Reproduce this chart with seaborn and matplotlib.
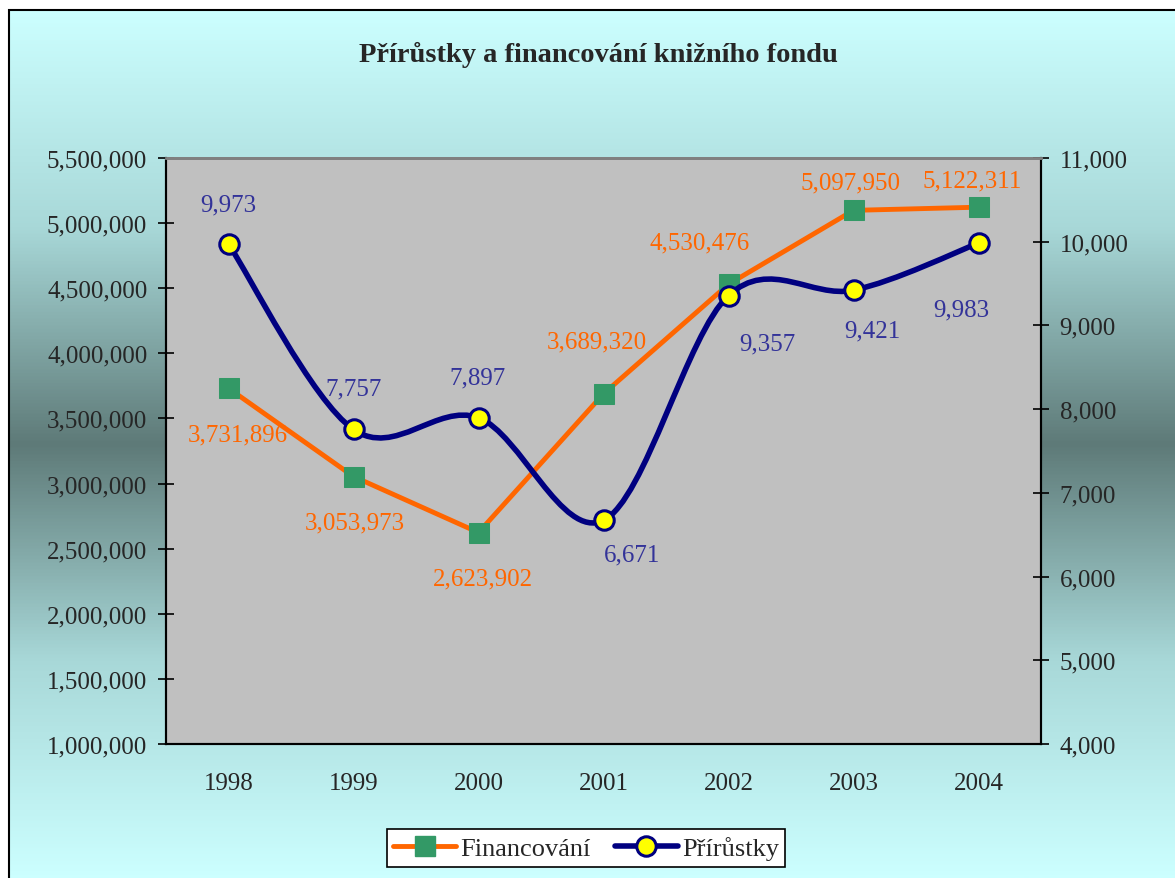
import matplotlib
matplotlib.use("Agg")
import matplotlib.pyplot as plt
import numpy as np
import seaborn as sns
from matplotlib.colors import LinearSegmentedColormap
from matplotlib.lines import Line2D
from matplotlib.patches import PathPatch, Rectangle
from matplotlib.path import Path
from matplotlib.ticker import FuncFormatter, MultipleLocator

years = ["1998", "1999", "2000", "2001", "2002", "2003", "2004"]
financovani = [3731896, 3053973, 2623902, 3689320, 4530476, 5097950, 5122311]
prirustky = [9973, 7757, 7897, 6671, 9357, 9421, 9983]

# label offsets in pixels (dx, dy), as placed in the original
fin_offsets = [(9, -46), (1, -46), (4, -46), (-7, 52), (-29, 42), (-3, 28), (-6, 27)]
pri_offsets = [(0, 40), (0, 41), (-1, 40), (29, -34), (39, -48), (19, -40), (-17, -66)]

ORANGE = "#FF6600"
GREEN = "#339966"
NAVY = "#000080"
LABEL_BLUE = "#333399"
FS = 18

sns.set_style("white")
plt.rcParams["font.family"] = ["Liberation Serif", "DejaVu Serif"]

W, H = 1175, 879
fig = plt.figure(figsize=(W / 100, H / 100), dpi=100)
fig.patch.set_facecolor("white")

# gradient background frame
top = 1 - 11 / H
bg = fig.add_axes([9 / W, 0, 1 - 9 / W, top])
bg.set_axis_off()
grad_cmap = LinearSegmentedColormap.from_list(
    "g", ["#CCFFFF", "#A8D8D8", "#5E7A78", "#A8D8D8", "#CCFFFF"])
g = np.linspace(0, 1, 512).reshape(-1, 1)
bg.imshow(g, aspect="auto", cmap=grad_cmap, extent=[0, 1, 0, 1])
bg.set_xlim(0, 1)
bg.set_ylim(0, 1)
fig.patches.append(Rectangle((9 / W, -0.01), 1.0, top + 0.01,
                             transform=fig.transFigure, fill=False,
                             edgecolor="black", linewidth=1.5, zorder=5))

ax = fig.add_axes([166 / W, 1 - 745 / H, (1041 - 166) / W, (745 - 159) / H])
ax.set_facecolor("#C0C0C0")
ax2 = ax.twinx()

x = np.arange(len(years))

sns.lineplot(x=x, y=financovani, ax=ax, color=ORANGE, linewidth=3.5,
             marker="s", markersize=14, markerfacecolor=GREEN,
             markeredgecolor=GREEN, zorder=3)

# smoothed line (Bezier through the points, like Excel's smoothing)
pts = np.column_stack([x, prirustky]).astype(float)
ext = np.vstack([pts[0], pts, pts[-1]])
verts = [pts[0]]
codes = [Path.MOVETO]
for i in range(len(pts) - 1):
    p0, p1, p2, p3 = ext[i], ext[i + 1], ext[i + 2], ext[i + 3]
    verts += [p1 + (p2 - p0) / 6, p2 - (p3 - p1) / 6, p2]
    codes += [Path.CURVE4] * 3
ax2.add_patch(PathPatch(Path(verts, codes), fill=False, edgecolor=NAVY,
                        linewidth=4, zorder=3, capstyle="round"))
sns.lineplot(x=x, y=prirustky, ax=ax2, linestyle="", marker="o",
             markersize=14, markerfacecolor="#FFFF00", markeredgecolor=NAVY,
             markeredgewidth=2.2, zorder=4)

ax.set_xlim(-0.5, len(years) - 0.5)
ax.set_ylim(1000000, 5500000)
ax2.set_ylim(4000, 11000)
ax.yaxis.set_major_locator(MultipleLocator(500000))
ax2.yaxis.set_major_locator(MultipleLocator(1000))
fmt = FuncFormatter(lambda v, p: f"{v:,.0f}")
ax.yaxis.set_major_formatter(fmt)
ax2.yaxis.set_major_formatter(fmt)

ax.set_xticks(x)
ax.set_xticklabels(years)
ax.set_xticks(np.arange(-0.5, len(years)), minor=True)
ax.tick_params(axis="x", which="major", length=0, pad=20, labelsize=FS)
ax.tick_params(axis="x", which="minor", direction="inout", length=11,
               width=1.2, color="black")
ax.tick_params(axis="y", direction="inout", length=11, width=1.2,
               color="black", pad=8, labelsize=FS, left=True)
ax2.tick_params(axis="y", direction="inout", length=11, width=1.2,
                color="black", pad=8, labelsize=FS, right=True)

for a in (ax, ax2):
    a.set_xlabel("")
    a.set_ylabel("")
    for s in a.spines.values():
        s.set_linewidth(1.5)
    a.spines["top"].set_color("#808080")
    a.spines["top"].set_linewidth(2)
    a.spines["left"].set_color("black")
    a.spines["bottom"].set_color("black")
    a.spines["right"].set_color("black")
    a.grid(False)
ax2.patch.set_visible(False)

for xi, v, (dx, dy) in zip(x, financovani, fin_offsets):
    ax.annotate(f"{v:,}", (xi, v), xytext=(dx, dy), textcoords="offset pixels",
                ha="center", va="center", color=ORANGE, fontsize=FS, zorder=6)
for xi, v, (dx, dy) in zip(x, prirustky, pri_offsets):
    ax2.annotate(f"{v:,}", (xi, v), xytext=(dx, dy), textcoords="offset pixels",
                 ha="center", va="center", color=LABEL_BLUE, fontsize=FS,
                 zorder=6)

fig.text(598 / W, 1 - 55 / H, "Přírůstky a financování knižního fondu",
         ha="center", va="center", fontsize=20.5, fontweight="bold")

handles = [
    Line2D([], [], color=ORANGE, linewidth=3.5, marker="s", markersize=14,
           markerfacecolor=GREEN, markeredgecolor=GREEN),
    Line2D([], [], color=NAVY, linewidth=4, marker="o", markersize=14,
           markerfacecolor="#FFFF00", markeredgecolor=NAVY,
           markeredgewidth=2.2),
]
leg = fig.legend(handles, ["Financování", "Přírůstky"], loc="center",
                 bbox_to_anchor=(586 / W, 1 - 849 / H), ncol=2, fontsize=19,
                 frameon=True, fancybox=False, handlelength=2.4,
                 handletextpad=0.15, columnspacing=0.9, borderpad=0.25)
leg.get_frame().set_edgecolor("black")
leg.get_frame().set_linewidth(1.2)
leg.get_frame().set_facecolor("white")
leg.get_frame().set_alpha(1)

fig.savefig("out.png", dpi=100)
